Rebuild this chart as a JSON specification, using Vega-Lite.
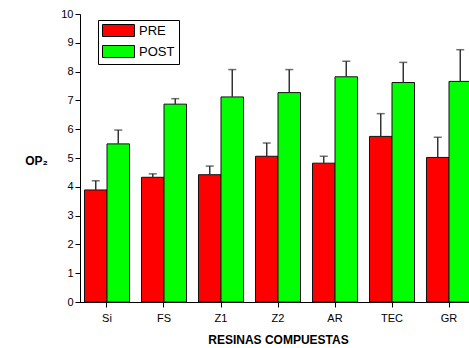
{
  "$schema": "https://vega.github.io/schema/vega-lite/v6.json",
  "width": 389,
  "height": 288,
  "autosize": {"type": "none"},
  "padding": {"left": 80, "top": 14, "right": 0, "bottom": 46},
  "background": "white",
  "config": {
    "view": {"stroke": null},
    "font": "Liberation Sans",
    "axisY": {"labelOverlap": false, "labelSeparation": 0}
  },
  "data": {
    "values": [
      {"cat": "Si", "group": "PRE", "value": 3.89, "upper": 4.21},
      {"cat": "Si", "group": "POST", "value": 5.49, "upper": 5.97},
      {"cat": "FS", "group": "PRE", "value": 4.33, "upper": 4.45},
      {"cat": "FS", "group": "POST", "value": 6.87, "upper": 7.06},
      {"cat": "Z1", "group": "PRE", "value": 4.42, "upper": 4.72},
      {"cat": "Z1", "group": "POST", "value": 7.12, "upper": 8.07},
      {"cat": "Z2", "group": "PRE", "value": 5.06, "upper": 5.52},
      {"cat": "Z2", "group": "POST", "value": 7.27, "upper": 8.07},
      {"cat": "AR", "group": "PRE", "value": 4.82, "upper": 5.06},
      {"cat": "AR", "group": "POST", "value": 7.82, "upper": 8.36},
      {"cat": "TEC", "group": "PRE", "value": 5.75, "upper": 6.54},
      {"cat": "TEC", "group": "POST", "value": 7.62, "upper": 8.32},
      {"cat": "GR", "group": "PRE", "value": 5.02, "upper": 5.72},
      {"cat": "GR", "group": "POST", "value": 7.66, "upper": 8.76}
    ]
  },
  "encoding": {
    "x": {
      "field": "cat",
      "type": "nominal",
      "sort": ["Si", "FS", "Z1", "Z2", "AR", "TEC", "GR"],
      "scale": {"range": [-1.5, 397.5], "paddingInner": 0.21, "paddingOuter": 0.105},
      "axis": {
        "title": "RESINAS COMPUESTAS",
        "titleFontSize": 12,
        "titleFontWeight": "bold",
        "titleColor": "#000",
        "titlePadding": 11,
        "labelAngle": 0,
        "labelFontSize": 11,
        "labelColor": "#000",
        "labelPadding": 5,
        "tickSize": 5,
        "tickColor": "#000",
        "domainColor": "#000",
        "domainWidth": 1,
        "grid": false
      }
    },
    "xOffset": {"field": "group", "type": "nominal", "sort": ["PRE", "POST"], "scale": {"paddingInner": 0, "paddingOuter": 0}}
  },
  "layer": [
    {
      "mark": {"type": "bar", "stroke": "#111", "strokeWidth": 1},
      "encoding": {
        "y": {
          "field": "value",
          "type": "quantitative",
          "scale": {"domain": [0, 10], "nice": false},
          "axis": {
            "title": "OP₂",
            "titleAngle": 0,
            "titleAlign": "center",
            "titleBaseline": "middle",
            "titleX": -44,
            "titleY": 146,
            "titleFontSize": 12,
            "titleFontWeight": "bold",
            "titleColor": "#000",
            "values": [0, 0.5, 1, 1.5, 2, 2.5, 3, 3.5, 4, 4.5, 5, 5.5, 6, 6.5, 7, 7.5, 8, 8.5, 9, 9.5, 10],
            "format": "d",
            "labelExpr": "datum.value % 1 === 0 ? datum.label : ''",
            "labelOverlap": false,
            "tickSize": {"condition": {"test": "datum.value % 1 === 0", "value": 5}, "value": 3},
            "tickColor": "#000",
            "domainColor": "#000",
            "labelFontSize": 11,
            "labelColor": "#000",
            "labelPadding": 2,
            "grid": false
          }
        },
        "color": {
          "field": "group",
          "type": "nominal",
          "sort": ["PRE", "POST"],
          "scale": {"domain": ["PRE", "POST"], "range": ["#FF0000", "#00FF00"]},
          "legend": {
            "title": null,
            "orient": "none",
            "legendX": 18,
            "legendY": 6,
            "strokeColor": "#000",
            "fillColor": "white",
            "padding": 4,
            "symbolType": "M-1,-1H4.333V1H-1Z",
            "symbolSize": 144,
            "symbolStrokeColor": "#000",
            "symbolStrokeWidth": 1,
            "symbolOpacity": 1,
            "labelFontSize": 13,
            "labelColor": "#000",
            "labelOffset": 24,
            "rowPadding": 4
          }
        }
      }
    },
    {
      "mark": {"type": "rule", "color": "#333", "strokeWidth": 1.5},
      "encoding": {
        "y": {
          "field": "value",
          "type": "quantitative",
          "axis": {
            "title": "OP₂",
            "values": [0, 0.5, 1, 1.5, 2, 2.5, 3, 3.5, 4, 4.5, 5, 5.5, 6, 6.5, 7, 7.5, 8, 8.5, 9, 9.5, 10],
            "format": "d",
            "labelExpr": "datum.value % 1 === 0 ? datum.label : ''",
            "labelOverlap": false
          }
        },
        "y2": {"field": "upper"}
      }
    },
    {
      "mark": {"type": "tick", "color": "#333", "size": 8, "thickness": 1.5},
      "encoding": {
        "y": {
          "field": "upper",
          "type": "quantitative",
          "axis": {
            "title": "OP₂",
            "values": [0, 0.5, 1, 1.5, 2, 2.5, 3, 3.5, 4, 4.5, 5, 5.5, 6, 6.5, 7, 7.5, 8, 8.5, 9, 9.5, 10],
            "format": "d",
            "labelExpr": "datum.value % 1 === 0 ? datum.label : ''",
            "labelOverlap": false
          }
        }
      }
    }
  ]
}
